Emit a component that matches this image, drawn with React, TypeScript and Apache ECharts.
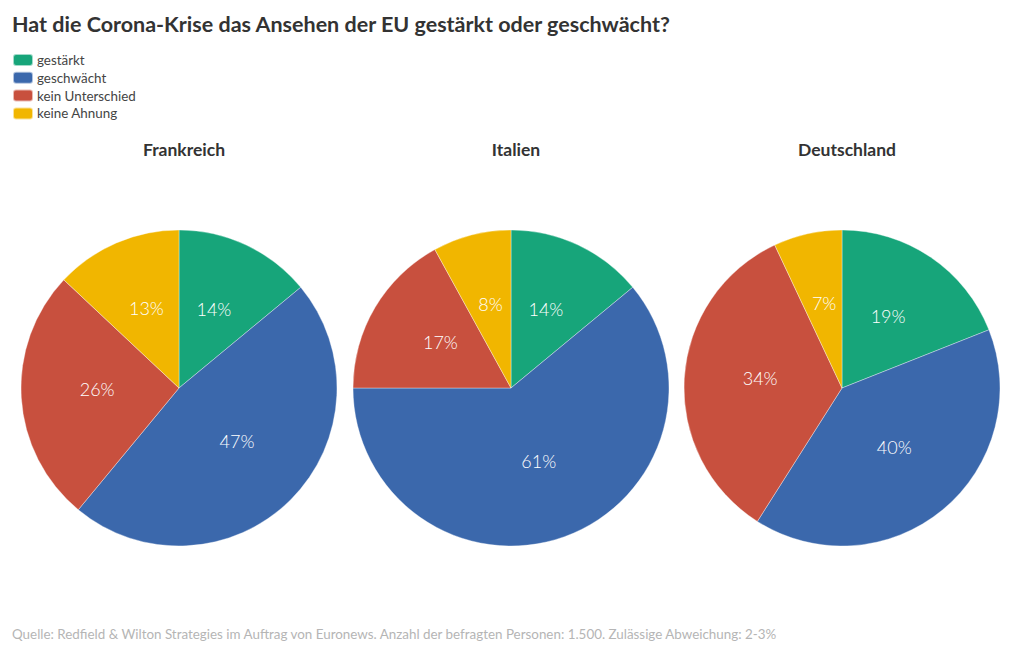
import React, { useEffect, useRef } from "react";
import * as echarts from "echarts";

const categories = ["gestärkt", "geschwächt", "kein Unterschied", "keine Ahnung"];
const countries = ["Frankreich", "Italien", "Deutschland"];
const frankreich = [14, 47, 26, 13];
const italien = [14, 61, 17, 8];
const deutschland = [19, 40, 34, 7];
const colors = ["#17a57a", "#3b68ac", "#c8503e", "#f1b600"];
const titleText = "Hat die Corona-Krise das Ansehen der EU gestärkt oder geschwächt?";
const sourceText =
  "Quelle: Redfield & Wilton Strategies im Auftrag von Euronews. Anzahl der befragten Personen: 1.500. Zulässige Abweichung: 2-3%";

const FONT = "Lato, 'Open Sans', sans-serif";

export default function App() {
  const ref = useRef<HTMLDivElement>(null);
  useEffect(() => {
    const chart = echarts.init(ref.current!, null, { renderer: "svg" });
    const allData = [frankreich, italien, deutschland];
    const centersX = [179, 511, 842];
    const option: any = {
      animation: false,
      color: colors,
      textStyle: { fontFamily: FONT },
      title: [
        {
          text: titleText,
          left: 7,
          top: 8,
          textStyle: { fontSize: 21.5, fontWeight: "bold", color: "#333", fontFamily: FONT },
        },
        ...countries.map((c, i) => ({
          text: c,
          left: centersX[i],
          top: 135,
          textAlign: "center",
          textStyle: { fontSize: 17.5, fontWeight: "bold", color: "#333", fontFamily: FONT },
        })),
        {
          text: sourceText,
          left: 7,
          top: 622,
          textStyle: { fontSize: 13.4, fontWeight: "normal", color: "#b5b5b5", fontFamily: FONT },
        },
      ],
      legend: {
        orient: "vertical",
        left: 12,
        top: 53,
        padding: 0,
        itemWidth: 20,
        itemHeight: 12,
        itemGap: 3.8,
        icon: "roundRect",
        selectedMode: false,
        data: categories,
        textStyle: { fontSize: 13.4, color: "#444", fontFamily: FONT, padding: [0, 0, 0, -1] },
      },
      series: allData.map((d, i) => ({
        type: "pie",
        center: [centersX[i], 388],
        radius: [0, 158],
        startAngle: 90,
        clockwise: true,
        avoidLabelOverlap: false,
        itemStyle: { borderColor: "rgba(255,255,255,0.6)", borderWidth: 0.6 },
        label: {
          show: true,
          position: "inside",
          formatter: "{v|{c}%}",
          rich: {
            v: {
              color: "#fff",
              fontSize: 18,
              fontWeight: 300,
              fontFamily: FONT,
              padding: [0, 0, 9, 0],
            },
          },
        },
        labelLine: { show: false },
        emphasis: { disabled: true },
        data: categories.map((name, j) => ({ name, value: d[j] })),
      })),
    };
    chart.setOption(option);
    return () => chart.dispose();
  }, []);
  return (
    <div
      ref={ref}
      style={{ position: "fixed", left: 0, top: 0, width: 1020, height: 650, background: "#fff" }}
    />
  );
}
